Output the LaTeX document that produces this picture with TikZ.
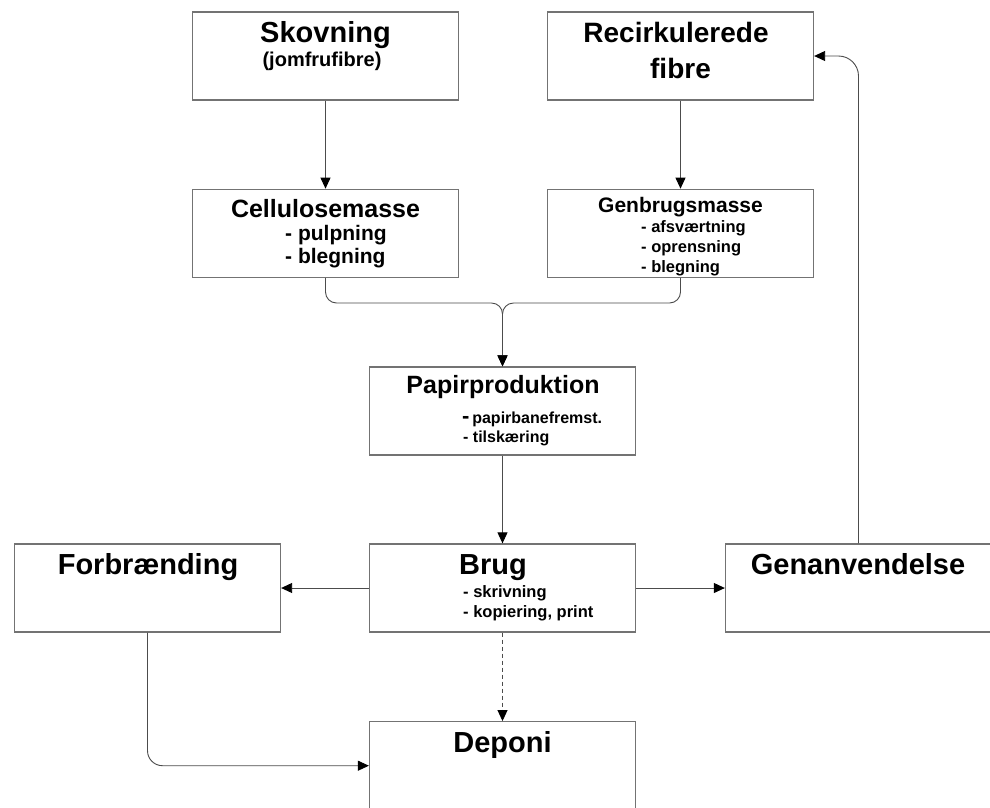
\documentclass[tikz,border=0pt]{standalone}
\usepackage{fontspec}
\setmainfont{Liberation Sans}
\usetikzlibrary{arrows.meta,positioning}

\newcommand{\fs}[1]{\fontsize{#1}{#1}\selectfont\bfseries}

\tikzset{
  boks/.style={draw=black!55, line width=1.3pt, fill=white,
    minimum width=266pt, minimum height=88pt, inner sep=0pt},
  tekst/.style={inner sep=0pt, anchor=base},
  punkt/.style={inner sep=0pt, anchor=base west},
  pil/.style={draw=black!70, line width=0.9pt,
    -{Triangle[length=11pt,width=10pt,color=black]}},
}

\begin{document}
\begin{tikzpicture}[x=1pt, y=-1pt]
    % Billedets rammer
    \fill[white] (0,0) rectangle (990,807);
    \useasboundingbox (0,0) rectangle (990,807);

    % Boksene
    \node[boks] (skov)   at (325.5,56)    {};
    \node[boks] (recirk) at (680.5,56)    {};
    \node[boks] (cell)   at (325.5,233.3) {};
    \node[boks] (genb)   at (680.5,233.3) {};
    \node[boks] (papir)  at (502.5,411)   {};
    \node[boks] (forb)   at (147.5,588)   {};
    \node[boks] (brug)   at (502.5,588)   {};
    \node[boks] (genanv) at (858.5,588)   {};
    \node[boks] (dep)    at (502.5,765.7) {};

    % Tekster
    \node[tekst] (skovT)   at (325.5,42.7) {\fs{29}Skovning};
    \node[tekst] (skovS)   at (322,66.7)   {\fs{20}(jomfrufibre)};
    \node[tekst] (recirkT) at (676,42)     {\fs{28}Recirkulerede};
    \node[tekst] (recirkS) at (680.5,78)   {\fs{28}fibre};

    \node[tekst] (cellT) at (325.5,217) {\fs{25}Cellulosemasse};
    \node[punkt] (cellA) at (285,240)   {\fs{21}- pulpning};
    \node[punkt] (cellB) at (285,263)   {\fs{21}- blegning};

    \node[tekst] (genbT) at (680.5,212) {\fs{21}Genbrugsmasse};
    \node[punkt] (genbA) at (641,232)   {\fs{16.5}- afsværtning};
    \node[punkt] (genbB) at (641,252)   {\fs{16.5}- oprensning};
    \node[punkt] (genbC) at (641,272)   {\fs{16.5}- blegning};

    \node[tekst] (papirT) at (503,393) {\fs{25}Papirproduktion};
    \node[punkt] (papirA) at (462,423) {{\fs{22}-} \fs{16}papirbanefremst.};
    \node[punkt] (papirB) at (463,442) {\fs{16}- tilskæring};

    \node[tekst] (forbT)   at (148,574.5)   {\fs{29}Forbrænding};
    \node[tekst] (brugT)   at (493,574.5)   {\fs{29}Brug};
    \node[punkt] (brugA)   at (463,597)     {\fs{16.5}- skrivning};
    \node[punkt] (brugB)   at (463,617)     {\fs{16.5}- kopiering, print};
    \node[tekst] (genanvT) at (858,574.5)   {\fs{29}Genanvendelse};
    \node[tekst] (depT)    at (502.5,752)   {\fs{29}Deponi};

    % Pile
    \coordinate (samle) at (502.5,303);
    \draw[pil] (skov) -- (cell);
    \draw[pil] (recirk) -- (genb);
    \draw[pil, rounded corners=11pt] (cell.south) -- (cell.south |- samle) -- (samle) -- (papir.north);
    \draw[pil, rounded corners=11pt] (genb.south) -- (genb.south |- samle) -- (samle) -- (papir.north);
    \draw[pil] (papir) -- (brug);
    \draw[pil] (brug) -- (forb);
    \draw[pil] (brug) -- (genanv);
    \draw[pil, dash pattern=on 4pt off 3pt] (brug) -- (dep);
    \draw[pil, rounded corners=15pt] (forb.south) |- (dep.west);
    \draw[pil, rounded corners=20pt] (genanv.north) |- (recirk.east);
\end{tikzpicture}
\end{document}
